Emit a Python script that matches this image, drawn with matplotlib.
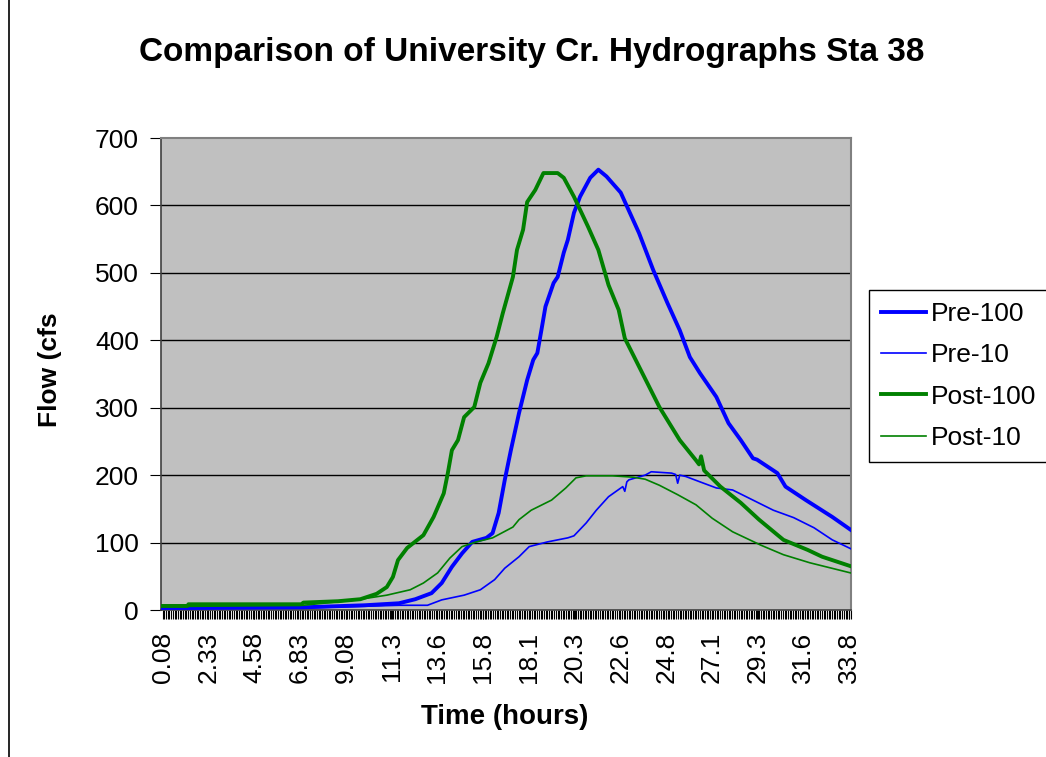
import matplotlib
matplotlib.use("Agg")
import matplotlib.pyplot as plt
from matplotlib.lines import Line2D
import numpy as np

plt.rcParams['font.family'] = ['Liberation Sans', 'DejaVu Sans']

title = "Comparison of University Cr. Hydrographs Sta 38"
xlabel = "Time (hours)"
ylabel = "Flow (cfs"
tick_labels = ["0.08", "2.33", "4.58", "6.83", "9.08", "11.3", "13.6", "15.8",
               "18.1", "20.3", "22.6", "24.8", "27.1", "29.3", "31.6", "33.8"]
tick_times = [0.0833 + 2.25 * k for k in range(16)]

pre100_t = [0, 1.3, 7.0, 10.0, 11.7, 12.5, 13.3, 13.8, 14.3, 14.8, 15.3, 16.0, 16.3, 16.6,
            16.9, 17.2, 17.6, 18.0, 18.3, 18.5, 18.7, 18.9, 19.3, 19.5, 19.8, 20.0, 20.3,
            20.6, 21.1, 21.5, 21.9, 22.6, 23.5, 24.2, 24.9, 25.5, 26.0, 26.5, 27.3, 27.9,
            28.5, 29.1, 29.3, 30.3, 30.7, 31.7, 33.0, 33.9]
pre100_v = [3, 3, 4, 7, 10, 16, 25, 40, 64, 84, 101, 107, 114, 144,
            193, 237, 292, 341, 371, 381, 415, 450, 485, 494, 530, 549, 589,
            613, 641, 653, 643, 619, 559, 504, 455, 415, 375, 351, 316, 277,
            252, 225, 223, 203, 183, 163, 138, 119]

pre10_t = [0, 7, 11.7, 13.1, 13.8, 14.9, 15.7, 16.4, 16.9, 17.6, 18.1, 19.0, 20.0, 20.3,
           20.9, 21.4, 22.0, 22.7, 22.8, 22.9, 23.0, 23.8, 24.1, 25.1, 25.3, 25.4, 25.5,
           25.8, 26.5, 27.3, 28.1, 29.1, 30.1, 31.1, 32.1, 33.0, 33.9]
pre10_v = [2, 3, 7, 7, 15, 22, 30, 45, 62, 79, 94, 101, 107, 110,
           129, 148, 168, 183, 176, 190, 193, 200, 205, 203, 201, 188, 200,
           198, 190, 181, 178, 163, 148, 137, 122, 104, 91]

post100_t = [0, 1.3, 1.35, 6.9, 7.0, 8.7, 9.8, 10.6, 11.1, 11.4, 11.65, 12.1, 12.9, 13.4,
             13.9, 14.1, 14.3, 14.6, 14.9, 15.4, 15.7, 16.1, 16.5, 16.8, 17.3, 17.5, 17.8,
             18.0, 18.4, 18.8, 19.5, 19.8, 20.3, 21.0, 21.5, 22.0, 22.5, 22.8, 23.5, 24.5,
             25.5, 26.3, 26.45, 26.55, 26.7, 27.5, 28.5, 29.4, 30.6, 31.8, 32.5, 33.9]
post100_v = [6, 6, 8.5, 8.5, 11, 13, 16, 24, 34, 49, 74, 92, 111, 138,
             173, 203, 237, 252, 286, 301, 337, 366, 405, 440, 494, 534, 564,
             605, 623, 648, 648, 641, 613, 568, 534, 482, 445, 403, 361, 301,
             252, 222, 216, 228, 207, 183, 159, 134, 104, 89, 79, 65]

post10_t = [0, 7, 9.6, 11.1, 12.25, 12.9, 13.6, 14.2, 14.8, 15.5, 16.3, 17.3, 17.6, 18.2,
            19.2, 19.9, 20.4, 20.9, 22.2, 23.2, 23.8, 24.5, 25.4, 26.3, 27.1, 28.1, 29.5,
            30.6, 31.9, 33.9]
post10_v = [5, 7, 15, 22, 30, 40, 55, 77, 94, 101, 107, 123, 134, 148,
            163, 181, 196, 199, 199, 197, 194, 185, 171, 156, 136, 116, 96,
            82, 70, 55]

series = [
    ("Pre-100", pre100_t, pre100_v, "#0000FF", 2.8),
    ("Pre-10", pre10_t, pre10_v, "#0000FF", 1.2),
    ("Post-100", post100_t, post100_v, "#008000", 2.8),
    ("Post-10", post10_t, post10_v, "#008000", 1.2),
]

W, H = 1046, 757
fig = plt.figure(figsize=(W / 100, H / 100), dpi=100)
fig.patch.set_facecolor("white")

ax = fig.add_axes([161 / W, 1 - 610 / H, 690 / W, 472 / H])
ax.set_facecolor("#C0C0C0")

for name, t, v, c, lw in series:
    ax.plot(t, v, color=c, lw=lw, label=name, solid_joinstyle="round", zorder=3)

ax.set_xlim(0.0, 33.92)
ax.set_ylim(0, 700)
ax.set_yticks(range(0, 701, 100))
for y in range(100, 700, 100):
    ax.axhline(y, color="black", lw=1.0, zorder=1)

ax.set_xticks(tick_times)
ax.set_xticklabels(tick_labels, rotation=90, fontsize=19)
ax.set_xticks(np.arange(0.0833, 33.92, 0.0833), minor=True)
ax.tick_params(axis="x", which="both", direction="out", length=6.5, width=0.8, pad=9)
ax.tick_params(axis="y", direction="out", length=8, width=0.8, pad=8, labelsize=19)

for s in ["left", "bottom"]:
    ax.spines[s].set_color("#404040")
    ax.spines[s].set_linewidth(1.2)
for s in ["top", "right"]:
    ax.spines[s].set_color("#808080")
    ax.spines[s].set_linewidth(1.5)

fig.text(532 / W, 1 - 53 / H, title, ha="center", va="center", fontsize=24, fontweight="bold")
fig.text(505 / W, 1 - 717 / H, xlabel, ha="center", va="center", fontsize=20, fontweight="bold")
fig.text(50 / W, 1 - 370 / H, ylabel, ha="center", va="center", fontsize=19,
         fontweight="bold", rotation=90)

handles = [Line2D([], [], color=c, lw=lw) for _, _, _, c, lw in series]
leg = fig.legend(handles, [s[0] for s in series], loc="upper left",
                 bbox_to_anchor=(869 / W, 1 - 290 / H), borderaxespad=0,
                 fontsize=19, frameon=True, fancybox=False, edgecolor="black",
                 framealpha=1, handlelength=1.7, handletextpad=0.2,
                 labelspacing=0.66, borderpad=0.45)
leg.get_frame().set_linewidth(1.0)

fig.add_artist(Line2D([9 / W, 9 / W], [0, 1], color="black", lw=1.2))

fig.savefig("out.png", dpi=100)
